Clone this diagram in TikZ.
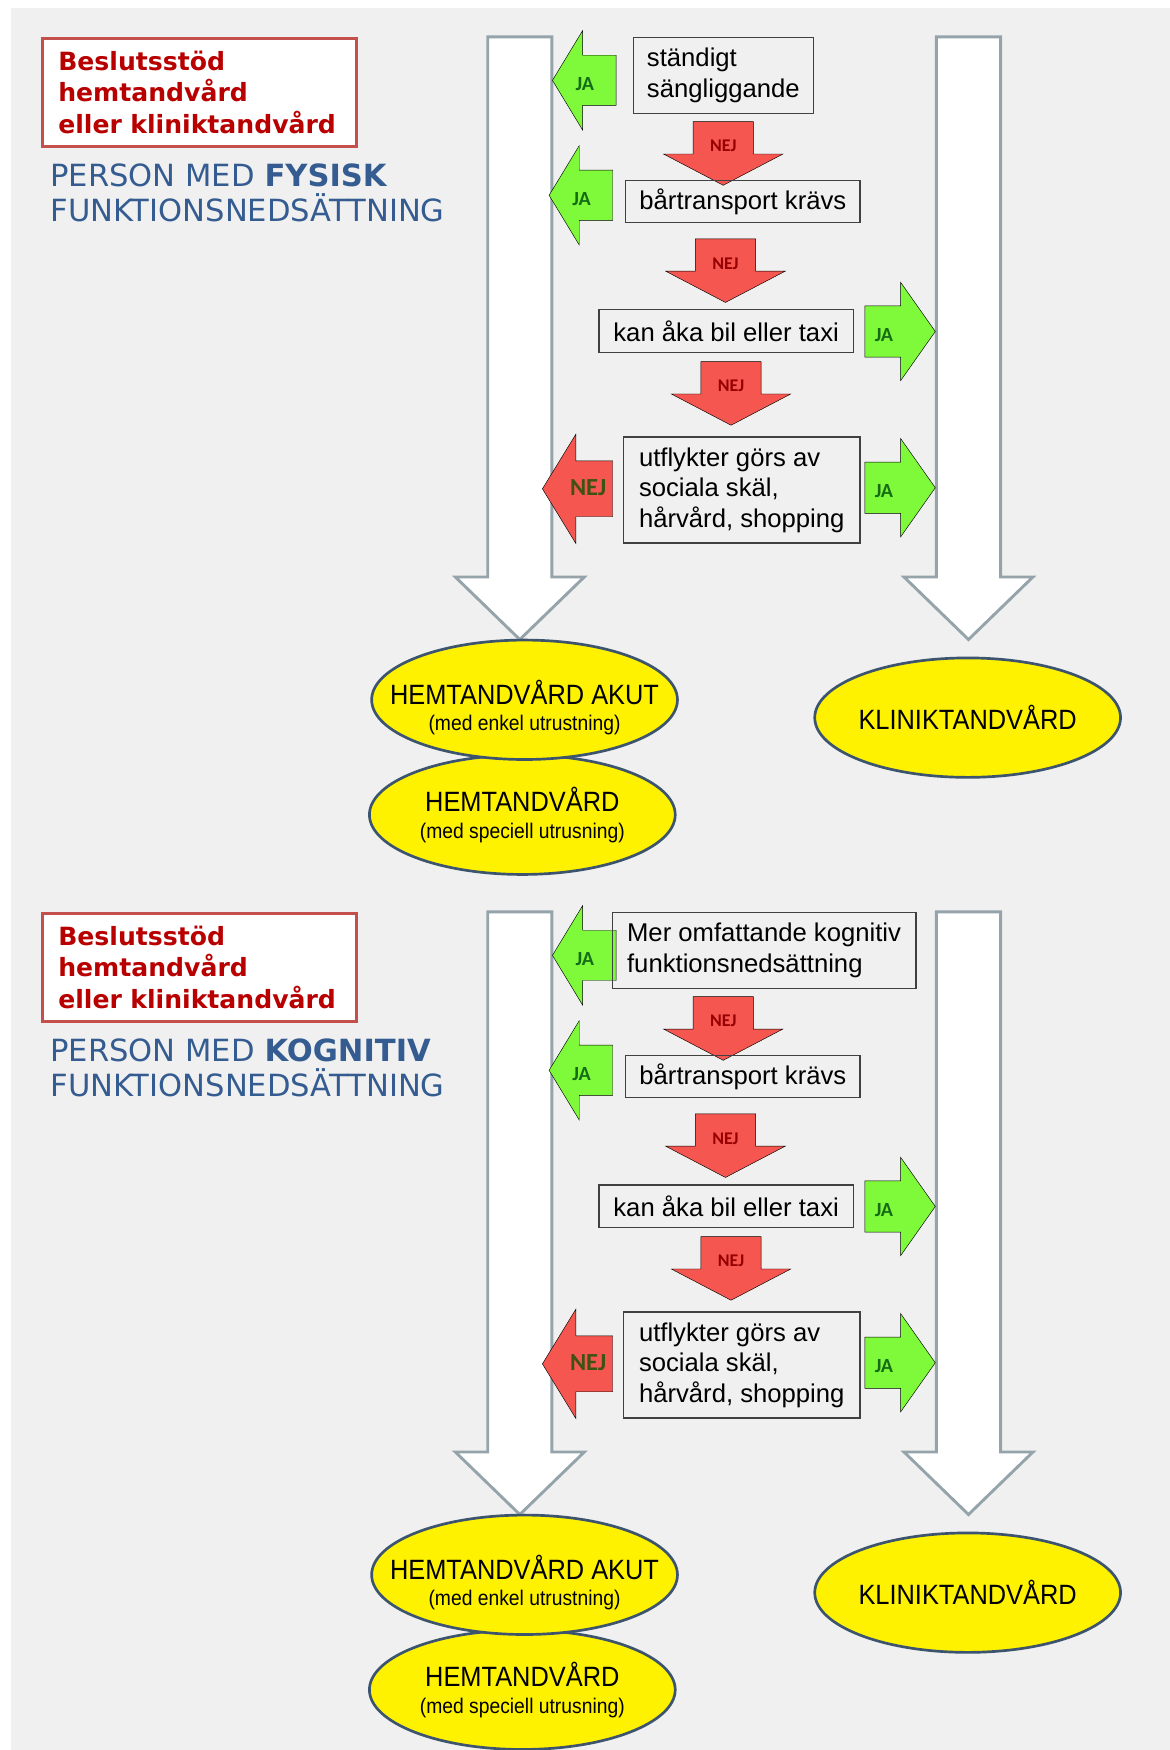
\documentclass[tikz,border=0pt]{standalone}
\usepackage{fontspec}
\setmainfont{Liberation Sans}
\newfontfamily\verdfont{DejaVu Sans}
\newfontfamily\califont{Carlito}
\newfontfamily\narrowfont[FakeStretch=0.91]{Liberation Sans}
\usetikzlibrary{shapes.geometric}
\definecolor{bggrey}{RGB}{240,240,240}
\definecolor{jagreen}{RGB}{126,250,58}
\definecolor{jatext}{RGB}{22,108,22}
\definecolor{nejred}{RGB}{246,86,80}
\definecolor{nejtext}{RGB}{150,0,0}
\definecolor{nejolive}{RGB}{62,82,20}
\definecolor{titlered}{RGB}{185,0,0}
\definecolor{framered}{RGB}{195,80,77}
\definecolor{titleblue}{RGB}{52,92,145}
\definecolor{bigline}{RGB}{148,164,170}
\definecolor{ovalline}{RGB}{60,84,110}
\begin{document}
\begin{tikzpicture}[x=1pt,y=-1pt,
  qbox/.style={draw=black!75,line width=1.2pt,anchor=north west,inner sep=0pt,align=left,font=\fontsize{23}{27.5}\selectfont},
  bigarrow/.style={draw=bigline,line width=2.6pt,fill=white,line join=miter},
  jafill/.style={fill=jagreen},
  nejfill/.style={fill=nejred},
  jalbl/.style={font=\califont\bfseries\fontsize{18}{18}\selectfont,text=jatext,inner sep=0pt},
  nejlbl/.style={font=\califont\bfseries\fontsize{16}{16}\selectfont,text=nejtext,inner sep=0pt},
  oval/.style={ellipse,draw=ovalline,line width=2.4pt,fill=yellow,minimum width=274pt,minimum height=107pt,inner sep=0pt},
  ovaltxt/.style={align=center,inner sep=0pt,font=\narrowfont\fontsize{25}{24}\selectfont}]
\fill[white] (0,0) rectangle (1048,1568);
\fill[bggrey] (10,7) rectangle (1048,1568);
\useasboundingbox (0,0) rectangle (1048,1568);
\foreach \p/\yo/\kind/\bx/\bw/\btxt in {1/0/FYSISK/567/161/{ständigt\\sängliggande},2/784/KOGNITIV/548/272/{Mer omfattande kognitiv\\funktionsnedsättning}} {
\begin{scope}[yshift=-\yo pt]
% heading
\node[draw=framered,line width=2.5pt,fill=white,anchor=north west,minimum width=281pt,minimum height=97pt,text width=253pt,inner xsep=14pt,inner ysep=0pt,align=left,font=\verdfont\bfseries\fontsize{22.5}{28}\selectfont,text=titlered] (head-\p) at (37,33) {Beslutsstöd\\hemtandvård\\eller kliniktandvård};
\node[anchor=north west,inner sep=0pt,align=left,font=\verdfont\fontsize{27.4}{31}\selectfont,text=titleblue] (who-\p) at (45,147) {PERSON MED \textbf{\kind}\\FUNKTIONSNEDSÄTTNING};
% big hollow arrows
\foreach \sx in {437,839} {
  \draw[bigarrow] (\sx,33) -- (\sx+57.5,33) -- (\sx+57.5,517) -- (\sx+86.5,517) -- (\sx+28.75,573) -- (\sx-29,517) -- (\sx,517) -- cycle;
}
% JA to the left
\foreach \tx/\ty/\n in {495/72/1,492/175/2} {
  \draw[jafill] (\tx,\ty) -- ++(27,-44.5) -- ++(0,22) -- ++(30,0) -- ++(0,45) -- ++(-30,0) -- ++(0,22) -- cycle;
  \node[jalbl] (jaL\n-\p) at (\tx+29,\ty+3) {JA};
}
% JA to the right
\foreach \ty/\n in {297/1,437/2} {
  \draw[jafill] (838,\ty) -- ++(-31,-44) -- ++(0,21) -- ++(-32,0) -- ++(0,46) -- ++(32,0) -- ++(0,21) -- cycle;
  \node[jalbl] (jaR\n-\p) at (792,\ty+3) {JA};
}
% NEJ downwards
\foreach \tx/\ty/\n in {648/166/1,650/271/2,655/381/3} {
  \draw[nejfill] (\tx,\ty) -- ++(-53.5,-28) -- ++(26.5,0) -- ++(0,-29) -- ++(54,0) -- ++(0,29) -- ++(26.5,0) -- cycle;
  \node[nejlbl] (nej\n-\p) at (\tx,\ty-35) {NEJ};
}
% NEJ to the left
\draw[nejfill] (486,438) -- ++(30,-49) -- ++(0,24) -- ++(33,0) -- ++(0,50) -- ++(-33,0) -- ++(0,24) -- cycle;
\node[font=\califont\bfseries\fontsize{22}{22}\selectfont,text=nejolive,inner sep=0pt] (nejL-\p) at (527,437) {NEJ};
% questions
\node[qbox,minimum width=\bw pt,minimum height=68pt] (q1-\p) at (\bx,33) {\btxt};
\node[qbox,minimum width=210pt,minimum height=38pt] (q2-\p) at (560,161) {bårtransport krävs};
\node[qbox,minimum width=228pt,minimum height=38pt] (q3-\p) at (536,277) {kan åka bil eller taxi};
\node[qbox,minimum width=212pt,minimum height=95pt] (q4-\p) at (558,391) {utflykter görs av\\sociala skäl,\\hårvård, shopping};
% outcomes
\node[oval] (hem-\p) at (468,730) {};
\node[ovaltxt] (hemtxt-\p) at (468,730) {HEMTANDVÅRD\\{\fontsize{19}{21}\selectfont(med speciell utrusning)}};
\node[oval] (akut-\p) at (470,627) {};
\node[ovaltxt] (akuttxt-\p) at (470,634) {HEMTANDVÅRD AKUT\\{\fontsize{19}{21}\selectfont(med enkel utrustning)}};
\node[oval] (klin-\p) at (867,643) {};
\node[ovaltxt] (klintxt-\p) at (867,643) {KLINIKTANDVÅRD};
\end{scope}
}
\end{tikzpicture}
\end{document}
